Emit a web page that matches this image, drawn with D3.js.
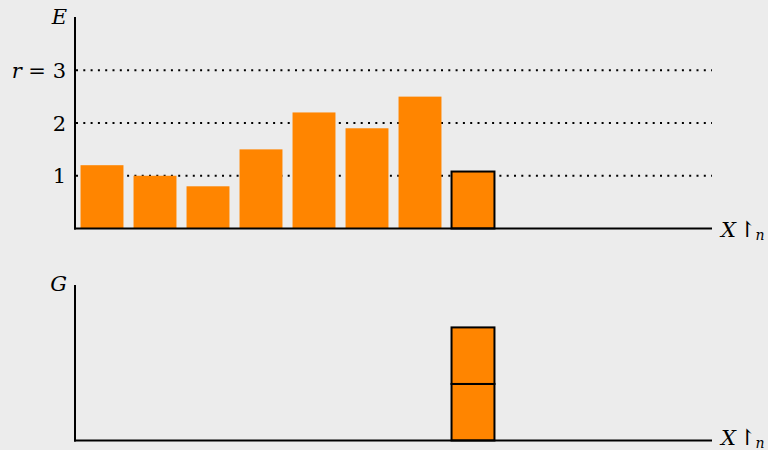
<!DOCTYPE html>
<html>
<head>
<meta charset="utf-8">
<script src="https://cdn.jsdelivr.net/npm/d3@7"></script>
<style>
  html, body { margin: 0; padding: 0; background: #ececec; }
  svg { display: block; }
  text { font-family: "DejaVu Serif", serif; fill: #000; }
</style>
</head>
<body>
<svg id="chart" width="768" height="450"></svg>
<script>
// Slots along the X axis (only the first eight carry a bar)
const slots = [1, 2, 3, 4, 5, 6, 7, 8, 9, 10, 11, 12];
// Upper panel: E per slot
const eValues = [1.2, 1.0, 0.8, 1.5, 2.2, 1.9, 2.5, 1.08];
// Slot that is outlined in the upper panel and stacked in the lower panel
const highlight = 8;
// Lower panel: stacked unit blocks G at the highlighted slot
const gBlocks = [1, 1];
// Reference levels drawn as dotted lines and their labels
const levels = [1, 2, 3];
const levelLabels = ["1", "2", "r = 3"];

const svg = d3.select("#chart");
const orange = "#ff8500";

const x = d3.scaleBand().domain(slots).range([75.5, 711.5]).paddingInner(0.19).paddingOuter(0.095);

// ---------- upper panel ----------
const yE = d3.scaleLinear().domain([0, 4]).range([228.5, 17.5]);
const upper = svg.append("g");

upper.selectAll("line.level").data(levels).join("line")
  .attr("class", "level")
  .attr("x1", 76).attr("x2", 712)
  .attr("y1", d => yE(d)).attr("y2", d => yE(d))
  .attr("stroke", "#000").attr("stroke-width", 2)
  .attr("stroke-dasharray", "2,5.3");

upper.selectAll("rect.bar").data(eValues).join("rect")
  .attr("class", "bar")
  .attr("x", (d, i) => x(slots[i]))
  .attr("width", x.bandwidth())
  .attr("y", d => yE(d))
  .attr("height", d => yE(0) - yE(d))
  .attr("fill", orange)
  .attr("stroke", (d, i) => slots[i] === highlight ? "#000" : "none")
  .attr("stroke-width", 2);

upper.selectAll("text.level").data(levels).join("text")
  .attr("class", "level")
  .attr("x", 66).attr("y", d => yE(d) + 7.5)
  .attr("text-anchor", "end")
  .attr("font-size", 21)
  .each(function (d, i) {
    const t = d3.select(this);
    const lab = levelLabels[i];
    if (lab.startsWith("r")) {
      t.append("tspan").attr("font-style", "italic").text("r");
      t.append("tspan").text(" = 3");
    } else t.text(lab);
  });

upper.append("line").attr("x1", 75).attr("x2", 75).attr("y1", 17).attr("y2", 229.5)
  .attr("stroke", "#000").attr("stroke-width", 2);
upper.append("line").attr("x1", 74).attr("x2", 712).attr("y1", 228.5).attr("y2", 228.5)
  .attr("stroke", "#000").attr("stroke-width", 2);
upper.append("text").attr("x", 67).attr("y", 24).attr("text-anchor", "end")
  .attr("font-size", 21).attr("font-style", "italic").text("E");

function xLabel(g, y) {
  const t = g.append("text").attr("x", 721).attr("y", y).attr("font-size", 21);
  t.append("tspan").attr("font-style", "italic").text("X");
  t.append("tspan").attr("dx", 2).attr("font-size", 22).text("\u21BE");
  t.append("tspan").attr("font-style", "italic").attr("font-size", 14).attr("dx", -1).attr("dy", 3).text("n");
}
xLabel(upper, 236.5);

// ---------- lower panel ----------
const yG = d3.scaleLinear().domain([0, 2.75]).range([440.5, 285]);
const lower = svg.append("g");
const stacked = d3.cumsum(gBlocks);

lower.selectAll("rect.block").data(gBlocks).join("rect")
  .attr("class", "block")
  .attr("x", x(highlight))
  .attr("width", x.bandwidth())
  .attr("y", (d, i) => yG(stacked[i]))
  .attr("height", d => yG(0) - yG(d))
  .attr("fill", orange)
  .attr("stroke", "#000").attr("stroke-width", 2);

lower.append("line").attr("x1", 75).attr("x2", 75).attr("y1", 285).attr("y2", 441.5)
  .attr("stroke", "#000").attr("stroke-width", 2);
lower.append("line").attr("x1", 74).attr("x2", 712).attr("y1", 440.5).attr("y2", 440.5)
  .attr("stroke", "#000").attr("stroke-width", 2);
lower.append("text").attr("x", 67).attr("y", 291).attr("text-anchor", "end")
  .attr("font-size", 21).attr("font-style", "italic").text("G");
xLabel(lower, 445);
</script>
</body>
</html>
